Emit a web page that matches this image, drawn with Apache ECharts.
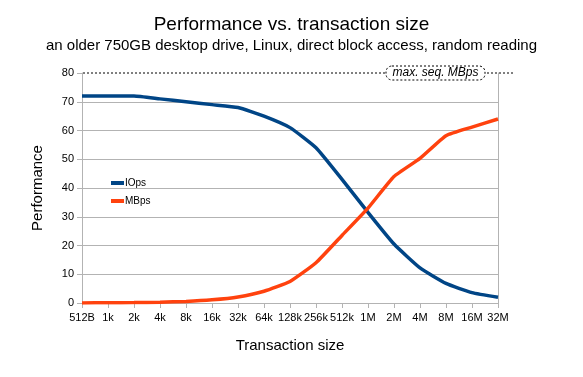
<!DOCTYPE html>
<html>
<head>
<meta charset="utf-8">
<script src="https://cdn.jsdelivr.net/npm/echarts@6/dist/echarts.min.js"></script>
<style>
  html, body { margin: 0; padding: 0; background: #fff; }
  #chart { width: 583px; height: 377px; }
</style>
</head>
<body>
<div id="chart"></div>
<script>
// 数据
var sizes = ['512B', '1k', '2k', '4k', '8k', '16k', '32k', '64k', '128k', '256k', '512k', '1M', '2M', '4M', '8M', '16M', '32M'];
var iops = [72, 72, 72, 71, 70, 69, 68, 65, 61, 54, 43, 31.5, 20.5, 12.2, 6.8, 3.6, 2];
var mbps = [0.04, 0.07, 0.14, 0.28, 0.55, 1.1, 2.1, 4.1, 7.5, 14, 23.5, 33, 44, 50.3, 58.2, 61.2, 64];
var maxSeqMbps = 80;
var yTicks = { min: 0, max: 80, step: 10 };

var font = 'Liberation Sans, Arial, sans-serif';
var myChart = echarts.init(document.getElementById('chart'));

var option = {
    animation: false,
    color: ['#004586', '#ff420e'],
    title: {
        text: 'Performance vs. transaction size',
        subtext: 'an older 750GB desktop drive, Linux, direct block access, random reading',
        left: 'center',
        top: 10,
        itemGap: 4,
        textStyle: { fontFamily: font, fontSize: 19, fontWeight: 'normal', color: '#000' },
        subtextStyle: { fontFamily: font, fontSize: 15, color: '#000' }
    },
    // 图例
    legend: {
        orient: 'vertical',
        left: 106,
        top: 173,
        itemWidth: 13,
        itemHeight: 4,
        itemGap: 8,
        icon: 'rect',
        data: ['IOps', 'MBps'],
        textStyle: { fontFamily: font, fontSize: 10, color: '#000', padding: [0, 0, 0, -4] }
    },
    grid: {
        left: 82,
        right: 85,
        top: 73,
        bottom: 74,
        containLabel: false
    },
    xAxis: {
        type: 'category',
        boundaryGap: false,
        data: sizes,
        name: 'Transaction size',
        nameLocation: 'middle',
        nameGap: 35,
        nameTextStyle: { fontFamily: font, fontSize: 15, color: '#000' },
        axisLine: { lineStyle: { color: '#b3b3b3', width: 1 } },
        axisTick: { show: true, length: 5, lineStyle: { color: '#b3b3b3' } },
        axisLabel: { fontFamily: font, fontSize: 11, color: '#000', margin: 9, interval: 0 },
        splitLine: { show: false }
    },
    yAxis: [
        {
            type: 'value',
            min: yTicks.min,
            max: yTicks.max,
            interval: yTicks.step,
            name: 'Performance',
            nameLocation: 'middle',
            nameGap: 37,
            nameTextStyle: { fontFamily: font, fontSize: 15, color: '#000' },
            axisLine: { show: true, lineStyle: { color: '#b3b3b3', width: 1 } },
            axisTick: { show: true, length: 5, lineStyle: { color: '#b3b3b3' } },
            axisLabel: { fontFamily: font, fontSize: 11, color: '#000', margin: 8 },
            splitLine: { showMaxLine: false, lineStyle: { color: '#b3b3b3', width: 1 } }
        },
        {
            // 右边框
            type: 'value',
            position: 'right',
            min: yTicks.min,
            max: yTicks.max,
            interval: yTicks.step,
            axisLine: { show: true, lineStyle: { color: '#b3b3b3', width: 1 } },
            axisTick: { show: false },
            axisLabel: { show: false },
            splitLine: { show: false }
        }
    ],
    series: [
        {
            name: 'IOps',
            type: 'line',
            showSymbol: false,
            symbol: 'none',
            smooth: 0.15,
            lineStyle: { width: 3.5 },
            data: iops,
            z: 3
        },
        {
            name: 'MBps',
            type: 'line',
            showSymbol: false,
            symbol: 'none',
            smooth: 0.15,
            lineStyle: { width: 3.5 },
            data: mbps,
            z: 4
        }
    ]
};

myChart.setOption(option);

// 最大顺序读取线 (超出绘图区)
var yLine = myChart.convertToPixel({ yAxisIndex: 0 }, maxSeqMbps);
var xStart = myChart.convertToPixel({ xAxisIndex: 0 }, sizes[0]);
var xEnd = myChart.convertToPixel({ xAxisIndex: 0 }, sizes[sizes.length - 1]);

myChart.setOption({
    graphic: [
        {
            type: 'line',
            shape: { x1: xStart + 1, y1: yLine, x2: xEnd + 17, y2: yLine },
            style: { stroke: '#000', lineWidth: 1, lineDash: [2, 2] },
            z: 10
        },
        {
            type: 'rect',
            shape: { x: xEnd - 112, y: yLine - 7, width: 99, height: 14, r: 6 },
            style: { fill: '#fff', stroke: '#000', lineWidth: 1, lineDash: [2, 2] },
            z: 11
        },
        {
            type: 'text',
            x: xEnd - 62.5,
            y: yLine,
            style: {
                text: 'max. seq. MBps',
                fontFamily: font,
                fontSize: 12,
                fontStyle: 'italic',
                fill: '#000',
                align: 'center',
                verticalAlign: 'middle'
            },
            z: 12
        }
    ]
});
</script>
</body>
</html>
